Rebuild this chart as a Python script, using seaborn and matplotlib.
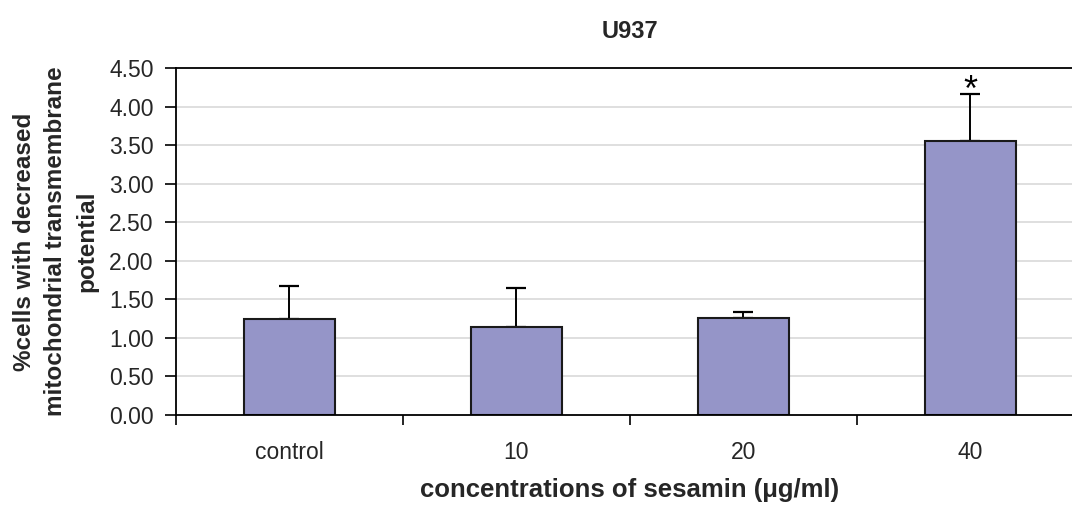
import matplotlib
matplotlib.use("Agg")
import matplotlib.pyplot as plt
import seaborn as sns
import pandas as pd
import numpy as np

categories = ["control", "10", "20", "40"]
means = [1.24, 1.14, 1.26, 3.55]
errors = [0.44, 0.51, 0.07, 0.61]
significance = ["", "", "", "*"]
yticks = [0.0, 0.5, 1.0, 1.5, 2.0, 2.5, 3.0, 3.5, 4.0, 4.5]

sns.set_theme(style="white")
plt.rcParams['font.family'] = ['Liberation Sans', 'DejaVu Sans']

df = pd.DataFrame({"cat": categories, "val": means})

fig = plt.figure(figsize=(10.72, 5.08), dpi=100)
ax = fig.add_axes([0.164, 0.183, 0.847, 0.683])

for y in yticks[1:-1]:
    ax.axhline(y, color="#d9d9d9", lw=1.2, zorder=0)

sns.barplot(data=df, x="cat", y="val", order=categories, color="#9595C8",
            width=0.4, edgecolor="#1a1a1a", linewidth=1.5, saturation=1,
            ax=ax, zorder=2)

xpos = np.arange(len(categories))
ax.errorbar(xpos, means, yerr=[np.zeros(len(errors)), errors], fmt="none",
            ecolor="black", elinewidth=1.4, capsize=7, capthick=1.6, zorder=1)

for x, m, e, s in zip(xpos, means, errors, significance):
    if s:
        ax.text(x, m + e - 0.08, s, ha="center", va="baseline", fontsize=26, color="black")

ax.set_ylim(0, 4.5)
ax.set_xlim(-0.5, 3.5)
ax.set_yticks(yticks)
ax.set_yticklabels([f"{v:.2f}" for v in yticks], fontsize=16.5)

ax.set_xticks(np.arange(-0.5, 3.0, 1.0))
ax.set_xticklabels([])
ax.set_xticks(xpos, minor=True)
ax.set_xticklabels(categories, minor=True, fontsize=16.5)
ax.tick_params(axis="x", which="major", direction="out", length=7, width=1.2, color="black", bottom=True)
ax.tick_params(axis="x", which="minor", length=0, pad=19)
ax.tick_params(axis="y", direction="out", length=8, width=1.2, color="black", left=True, pad=8)

for side in ["left", "bottom", "top"]:
    ax.spines[side].set_visible(True)
    ax.spines[side].set_color("black")
    ax.spines[side].set_linewidth(1.3)
ax.spines["right"].set_visible(False)

ax.set_xlabel("concentrations of sesamin (\u03bcg/ml)", fontsize=18.5, fontweight="bold", labelpad=10)
ax.set_ylabel("%cells with decreased\nmitochondrial transmembrane\npotential", fontsize=17.5,
              fontweight="bold", labelpad=8, linespacing=1.45)
ax.set_title("U937", fontsize=17, fontweight="bold", pad=22)

fig.savefig("out.png", dpi=100)
